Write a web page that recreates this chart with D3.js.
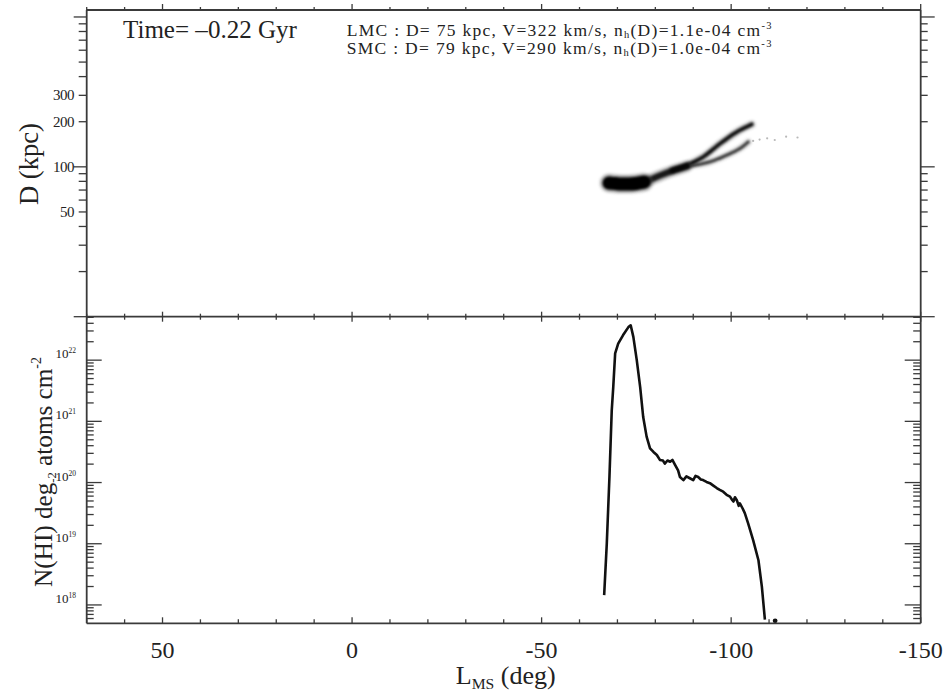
<!DOCTYPE html>
<html><head><meta charset="utf-8">
<script src="https://cdn.jsdelivr.net/npm/d3@7"></script>
<style>
body{margin:0;background:#fff}
svg{display:block}
text{font-family:"Liberation Serif","Times New Roman",serif;fill:#222}
</style>
</head><body>
<svg id="c" width="951" height="693"></svg>
<script>
// ---------------- data ----------------
const xTickValues = [50, 0, -50, -100, -150];
const dTickLabels = [50, 100, 200, 300];
const nTickExps = [18, 19, 20, 21, 22];
// LMC core blob (L deg, D kpc)
const coreL = [-67.8, -69.5, -71, -73, -75, -77];
const coreD = [78, 77.3, 76.8, 76.8, 77.5, 79];
// common stream before the split
const trunkL = [-75, -78.6, -81.2, -84.5, -88.3];
const trunkD = [78, 82, 87.5, 94, 101];
// upper (bright) stream
const upperL = [-84.5, -88.3, -92.6, -97.1, -101.5, -105.4];
const upperD = [95, 102.6, 116.5, 143, 171, 192];
// lower (fainter) stream
const lowerL = [-84.5, -88.3, -94.4, -98.8, -102.3, -104.5];
const lowerD = [94, 100, 108, 119.6, 132.5, 146.6];
// faint spray beyond the lower stream
const sprayL = [-105.8, -107.5, -109.5, -111.5, -114.5, -117.5];
const sprayD = [149, 152, 155, 151, 159, 157];
// HI column density profile: L (deg), log10 N(HI)
const nhiL = [-66.5,-67.2,-67.9,-68.5,-68.9,-69.4,-70.2,-71.5,-72.9,-73.5,-74.2,-75.1,-76.0,-76.8,-77.7,-78.6,-79.5,-80.4,-81.2,-82.0,-82.5,-83.2,-83.9,-84.5,-85.2,-86.0,-86.5,-87.4,-88.2,-89.1,-90.0,-90.6,-91.3,-92.0,-92.6,-93.5,-94.4,-95.3,-96.2,-97.0,-97.9,-98.8,-99.7,-100.2,-100.6,-101.0,-101.5,-102.0,-102.3,-103.0,-103.6,-104.5,-105.8,-107.2,-108.1,-108.9];
const nhiLog = [18.16,19.01,20.10,21.18,21.56,22.11,22.27,22.41,22.54,22.57,22.38,22.0,21.56,21.07,20.75,20.56,20.50,20.45,20.37,20.36,20.31,20.36,20.34,20.37,20.29,20.20,20.09,20.04,20.10,20.07,20.04,20.11,20.09,20.05,20.04,20.01,19.99,19.95,19.91,19.88,19.85,19.80,19.77,19.72,19.69,19.76,19.71,19.62,19.66,19.58,19.50,19.33,19.06,18.73,18.30,17.76];
const tailDotL = [-111.6];
const tailDotLog = [17.74];

// ---------------- layout ----------------
const L = 86.7, R = 920.7, T = 10, MID = 316.7, B = 623.3;
const svg = d3.select('#c');
const x = d3.scaleLinear().domain([70, -150]).range([L, R]);
const yT = d3.scaleLog().domain([10, 1113]).range([MID, T]);
const yB = d3.scaleLog().domain([Math.pow(10,17.7), Math.pow(10,22.71)]).range([B, MID]);
const ink = '#3a3a3a';

svg.append('defs').html(
 `<clipPath id="cpT"><rect x="${L}" y="${T}" width="${R-L}" height="${MID-T}"/></clipPath>
  <clipPath id="cpB"><rect x="${L}" y="${MID}" width="${R-L}" height="${B-MID+2}"/></clipPath>
  <filter id="soft" filterUnits="userSpaceOnUse" x="0" y="0" width="951" height="693"><feGaussianBlur stdDeviation="0.9"/></filter>
  <filter id="soft2" filterUnits="userSpaceOnUse" x="0" y="0" width="951" height="693"><feGaussianBlur stdDeviation="1.8"/></filter>`);

// ---------------- top panel scatter (particle streams) ----------------
const gT = svg.append('g').attr('clip-path','url(#cpT)');
const lineT = d3.line().x(d=>x(d[0])).y(d=>yT(d[1])).curve(d3.curveCatmullRom);
const zip = (a,b)=>a.map((v,i)=>[v,b[i]]);
function stream(pts, wHalo, wCore, opHalo, opCore, dash){
  gT.append('path').attr('d',lineT(pts)).attr('fill','none').attr('stroke','#444')
    .attr('stroke-width',wHalo).attr('stroke-linecap','round').attr('opacity',opHalo).attr('filter','url(#soft2)');
  const p = gT.append('path').attr('d',lineT(pts)).attr('fill','none').attr('stroke','#000')
    .attr('stroke-width',wCore).attr('stroke-linecap','round').attr('opacity',opCore).attr('filter','url(#soft)');
  if(dash) p.attr('stroke-dasharray',dash);
}
stream(zip(lowerL,lowerD), 6, 2.8, 0.35, 0.7, '2 1.2');
stream(zip(upperL,upperD), 7, 3.6, 0.45, 0.9, '3 1');
stream(zip(trunkL,trunkD), 11, 6, 0.45, 0.85);
stream(zip(coreL,coreD), 18, 13, 0.5, 1);
gT.selectAll('circle.spray').data(zip(sprayL,sprayD)).enter().append('circle')
  .attr('cx',d=>x(d[0])).attr('cy',d=>yT(d[1])).attr('r',1.1).attr('fill','#888').attr('opacity',0.6);

// ---------------- bottom panel curve ----------------
const gB = svg.append('g').attr('clip-path','url(#cpB)');
const lineB = d3.line().x(d=>x(d[0])).y(d=>yB(Math.pow(10,d[1])));
gB.append('path').attr('d',lineB(zip(nhiL,nhiLog))).attr('fill','none').attr('stroke','#111')
  .attr('stroke-width',2.6).attr('stroke-linejoin','round');
gB.selectAll('circle.tail').data(zip(tailDotL,tailDotLog)).enter().append('circle')
  .attr('cx',d=>x(d[0])).attr('cy',d=>yB(Math.pow(10,d[1]))).attr('r',2.4).attr('fill','#111');

// ---------------- axes ----------------
const ax = svg.append('g').attr('stroke',ink).attr('fill','none');
function seg(x1,y1,x2,y2,w){ ax.append('line').attr('x1',x1).attr('y1',y1).attr('x2',x2).attr('y2',y2).attr('stroke-width',w||1.3); }
seg(L,T,R,T,1.8); seg(L,MID,R,MID,1.8); seg(L,B,R,B,1.8);
seg(L,T,L,B,1.8); seg(R,T,R,B,1.8);

const xMinor = d3.range(70, -151, -10);
xMinor.forEach(v=>{
  const major = v % 50 === 0;
  const px = x(v);
  seg(px, T, px, T-(major?6:3));
  seg(px, MID, px, MID-(major?5:3));
  seg(px, MID, px, MID+(major?5:3));
  seg(px, B, px, B-(major?6:4));
});

const dTicks = [];
[10,100].forEach(b=>{ for(let k=1;k<=9;k++){ const v=k*b; if(v>=10 && v<=1113) dTicks.push([v,k===1]); } });
dTicks.push([1000,true]);
dTicks.forEach(([v,maj])=>{
  const py = yT(v);
  seg(L, py, L-(maj?13:8), py);
  seg(R, py, R+(maj?14:7), py);
});

const nTicks = [];
for(let e=17;e<=22;e++){ for(let k=1;k<=9;k++){ const v=k*Math.pow(10,e); if(v>=yB.domain()[0] && v<=yB.domain()[1]) nTicks.push([v,k===1]); } }
nTicks.forEach(([v,maj])=>{
  const py = yB(v);
  seg(L, py, L+(maj?15:7), py);
  seg(R, py, R-(maj?16:7.5), py);
});

// ---------------- labels ----------------
function fit(sel, target){
  const w = sel.node().getBBox().width;
  const fs = parseFloat(sel.attr('font-size'));
  sel.attr('font-size', fs*target/w);
  return fs*target/w;
}
svg.selectAll('text.xt').data(xTickValues).enter().append('text')
  .attr('x',d=>x(d)).attr('y',658).attr('text-anchor','middle').attr('font-size',24)
  .text(d=>String(d));

svg.selectAll('text.yt').data(dTickLabels).enter().append('text')
  .attr('x',74).attr('y',d=>yT(d)).attr('dy','0.34em').attr('text-anchor','end')
  .attr('font-size',15).attr('letter-spacing','-0.5').text(d=>d);

nTickExps.forEach(e=>{
  const t = svg.append('text').attr('x',76).attr('y',yB(Math.pow(10,e))-2)
    .attr('text-anchor','end').attr('font-size',13).attr('fill','#333');
  t.append('tspan').text('10');
  t.append('tspan').attr('font-size',7.5).attr('dy',-5).text(e);
});

const dl = svg.append('text').attr('transform','translate(38,164) rotate(-90)')
  .attr('text-anchor','middle').attr('font-size',26).text('D (kpc)');
fit(dl, 82);

const nl = svg.append('text').attr('transform','translate(52,472) rotate(-90)')
  .attr('text-anchor','middle').attr('font-size',26);
nl.append('tspan').text('N(HI) deg');
nl.append('tspan').attr('font-size','0.5em').attr('dy','0.35em').text('-2');
nl.append('tspan').attr('dy','-0.18em').text(' atoms cm');
nl.append('tspan').attr('font-size','0.55em').attr('dy','-0.75em').text('-2');
fit(nl, 230);

const xl = svg.append('text').attr('x',(L+R)/2+2).attr('y',684).attr('text-anchor','middle').attr('font-size',22);
xl.append('tspan').text('L');
xl.append('tspan').attr('font-size','0.6em').attr('dy','0.3em').text('MS');
xl.append('tspan').attr('dy','-0.18em').text(' (deg)');
fit(xl, 100);

const tt = svg.append('text').attr('x',123).attr('y',38).attr('font-size',24).text('Time= \u20130.22 Gyr');
fit(tt, 174);

function header(txt1, txt2, y){
  const t = svg.append('text').attr('x',346.7).attr('y',y).attr('font-size',17.5);
  t.append('tspan').text(txt1 + ' n');
  t.append('tspan').attr('font-size','0.6em').attr('dy','0.25em').text('h');
  t.append('tspan').attr('dy','-0.15em').text(txt2 + ' cm');
  t.append('tspan').attr('font-size','0.6em').attr('dy','-0.6em').text('-3');
  return t;
}
function spread(t, target){
  const w = t.node().getBBox().width;
  const n = t.text().length;
  t.attr('letter-spacing', Math.max(0, (target - w) / n));
}
const h1 = header('LMC : D= 75 kpc, V=322 km/s,', '(D)=1.1e-04', 35.5);
spread(h1, 426);
const h2 = header('SMC : D= 79 kpc, V=290 km/s,', '(D)=1.0e-04', 53.5);
spread(h2, 426);
</script>
</body></html>
